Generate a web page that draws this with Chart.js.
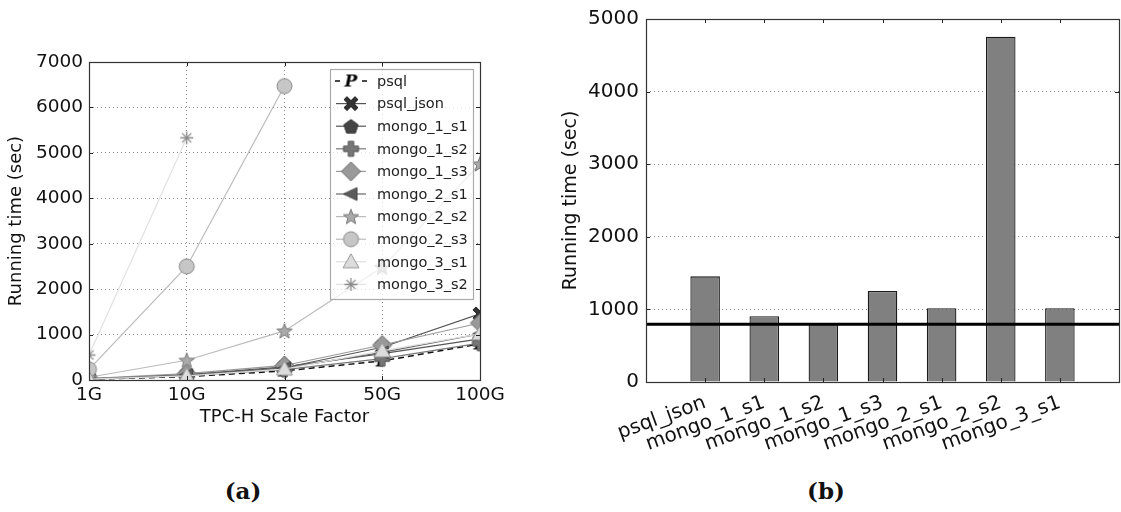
<!DOCTYPE html>
<html><head><meta charset="utf-8">
<script src="https://cdn.jsdelivr.net/npm/chart.js@4"></script>
<style>
html,body{margin:0;padding:0;background:#fff;width:1121px;height:512px;overflow:hidden;}
#ca{position:absolute;left:0;top:0;}
#cb{position:absolute;left:560px;top:0;}
.cap{position:absolute;top:477px;font:bold 23px "DejaVu Serif",serif;color:#111;transform:translateX(-50%);}
</style></head><body>
<canvas id="ca" width="505" height="460"></canvas>
<canvas id="cb" width="561" height="460"></canvas>
<div class="cap" style="left:243px">(a)</div>
<div class="cap" style="left:826px">(b)</div>
<script>
// ---------- data ----------
const scaleFactors = ['1G', '10G', '25G', '50G', '100G'];
const seriesNames = ['psql', 'psql_json', 'mongo_1_s1', 'mongo_1_s2', 'mongo_1_s3', 'mongo_2_s1', 'mongo_2_s2', 'mongo_2_s3', 'mongo_3_s1', 'mongo_3_s2'];
const psql      = [15, 75, 200, 420, 795];
const psqlJson  = [20, 100, 270, 720, 1455];
const mongo1s1  = [25, 120, 290, 580, 905];
const mongo1s2  = [20, 95, 230, 470, 810];
const mongo1s3  = [30, 140, 320, 770, 1255];
const mongo2s1  = [25, 110, 260, 610, 1016];
const mongo2s2  = [60, 434, 1080, 2480, 4755];
const mongo2s3  = [235, 2500, 6470, null, null];
const mongo3s1  = [20, 90, 240, 640, 1016];
const mongo3s2  = [550, 5330, null, null, null];
const leftYTicks = [0, 1000, 2000, 3000, 4000, 5000, 6000, 7000];

const barCategories = ['psql_json', 'mongo_1_s1', 'mongo_1_s2', 'mongo_1_s3', 'mongo_2_s1', 'mongo_2_s2', 'mongo_3_s1'];
const barValues     = [1455, 905, 810, 1255, 1016, 4755, 1016];
const rightYTicks = [0, 1000, 2000, 3000, 4000, 5000];
const psqlBaseline = psql[psql.length - 1];

// ---------- markers ----------
function markerCanvas(kind, size, fill, edge) {
  const S = Math.ceil(size + 4);
  const c = document.createElement('canvas'); c.width = S; c.height = S;
  const g = c.getContext('2d');
  const cx = S / 2, cy = S / 2, r = size / 2;
  g.fillStyle = fill; g.strokeStyle = edge; g.lineWidth = 1;
  const poly = (pts) => { g.beginPath(); pts.forEach((p, i) => i ? g.lineTo(cx + p[0], cy + p[1]) : g.moveTo(cx + p[0], cy + p[1])); g.closePath(); g.fill(); g.stroke(); };
  if (kind === 'P') {
    g.font = 'italic bold ' + size + 'px "DejaVu Serif", serif';
    g.textAlign = 'center'; g.textBaseline = 'middle';
    g.fillText('P', cx, cy + 1);
  } else if (kind === 'X') {
    const w = r * 0.42;
    poly([[-r, -r + w], [-r + w, -r], [0, -w], [r - w, -r], [r, -r + w], [w, 0], [r, r - w], [r - w, r], [0, w], [-r + w, r], [-r, r - w], [-w, 0]]);
  } else if (kind === 'pent') {
    const pts = []; for (let k = 0; k < 5; k++) { const a = -Math.PI / 2 + k * 2 * Math.PI / 5; pts.push([r * Math.cos(a), r * Math.sin(a) + r * 0.1]); } poly(pts);
  } else if (kind === 'plus') {
    const a = r * 0.36; poly([[-a, -r], [a, -r], [a, -a], [r, -a], [r, a], [a, a], [a, r], [-a, r], [-a, a], [-r, a], [-r, -a], [-a, -a]]);
  } else if (kind === 'diamond') {
    poly([[0, -r], [r, 0], [0, r], [-r, 0]]);
  } else if (kind === 'left') {
    poly([[-r, 0], [r * 0.8, -r * 0.85], [r * 0.8, r * 0.85]]);
  } else if (kind === 'star') {
    const pts = []; for (let k = 0; k < 10; k++) { const a = -Math.PI / 2 + k * Math.PI / 5; const rr = k % 2 ? r * 0.42 : r; pts.push([rr * Math.cos(a), rr * Math.sin(a) + r * 0.08]); } poly(pts);
  } else if (kind === 'circle') {
    g.beginPath(); g.arc(cx, cy, r, 0, Math.PI * 2); g.fill(); g.stroke();
  } else if (kind === 'tri') {
    poly([[0, -r], [r, r * 0.75], [-r, r * 0.75]]);
  } else if (kind === 'ast') {
    g.lineWidth = 1.3; g.strokeStyle = fill; g.beginPath();
    for (let k = 0; k < 4; k++) { const a = k * Math.PI / 4; g.moveTo(cx - r * Math.cos(a), cy - r * Math.sin(a)); g.lineTo(cx + r * Math.cos(a), cy + r * Math.sin(a)); }
    g.stroke();
  }
  return c;
}

const styles = [
  { line: '#111', width: 1.5, dash: [6, 4], marker: markerCanvas('P', 17, '#000', '#000') },
  { line: '#555', width: 1.2, dash: [], marker: markerCanvas('X', 14, '#333', '#222') },
  { line: '#555', width: 1.2, dash: [], marker: markerCanvas('pent', 15, '#444', '#333') },
  { line: '#777', width: 1.2, dash: [], marker: markerCanvas('plus', 15, '#777', '#555') },
  { line: '#999', width: 1.2, dash: [], marker: markerCanvas('diamond', 19, '#999', '#666') },
  { line: '#666', width: 1.2, dash: [], marker: markerCanvas('left', 15, '#5c5c5c', '#444') },
  { line: '#bbb', width: 1.2, dash: [], marker: markerCanvas('star', 16, '#aaa', '#777') },
  { line: '#bbb', width: 1.2, dash: [], marker: markerCanvas('circle', 15, '#c6c6c6', '#888') },
  { line: '#ddd', width: 1.2, dash: [], marker: markerCanvas('tri', 16, '#dcdcdc', '#999') },
  { line: '#e2e2e2', width: 1.2, dash: [], marker: markerCanvas('ast', 13, '#8a8a8a', '#8a8a8a') }
];
const seriesData = [psql, psqlJson, mongo1s1, mongo1s2, mongo1s3, mongo2s1, mongo2s2, mongo2s3, mongo3s1, mongo3s2];

const FONT = '"DejaVu Sans", sans-serif';
const plainNum = (v) => String(v);

function innerTicks(chart, xs, ys, len) {
  const ctx = chart.ctx, a = chart.chartArea;
  ctx.save(); ctx.strokeStyle = '#222'; ctx.lineWidth = 1; ctx.beginPath();
  xs.forEach(x => { x = Math.round(x) + 0.5; ctx.moveTo(x, a.bottom); ctx.lineTo(x, a.bottom - len); ctx.moveTo(x, a.top); ctx.lineTo(x, a.top + len); });
  ys.forEach(y => { y = Math.round(y) + 0.5; ctx.moveTo(a.left, y); ctx.lineTo(a.left + len, y); ctx.moveTo(a.right, y); ctx.lineTo(a.right - len, y); });
  ctx.stroke();
  ctx.strokeStyle = '#333'; ctx.lineWidth = 1.2;
  ctx.strokeRect(Math.round(a.left) + 0.5, Math.round(a.top) + 0.5, Math.round(a.right - a.left), Math.round(a.bottom - a.top));
  ctx.restore();
}

// ---------- left chart ----------
const leftPlugin = {
  id: 'leftDecor',
  afterDraw(chart) {
    const xs = scaleFactors.map((_, i) => chart.scales.x.getPixelForTick(i));
    const ys = leftYTicks.map(v => chart.scales.y.getPixelForValue(v));
    innerTicks(chart, xs, ys, 4);
    // legend (semi-opaque like the reference)
    const ctx = chart.ctx, a = chart.chartArea;
    const w = 143, h = 230;
    const lx = a.right - 7 - w, ly = a.top + 7;
    ctx.save();
    ctx.fillStyle = 'rgba(255,255,255,0.75)'; ctx.fillRect(lx, ly, w, h);
    ctx.strokeStyle = '#aaa'; ctx.lineWidth = 1.2; ctx.strokeRect(Math.round(lx) + 0.5, Math.round(ly) + 0.5, w, h);
    ctx.font = '14.5px ' + FONT; ctx.textBaseline = 'middle'; ctx.textAlign = 'left';
    seriesNames.forEach((name, i) => {
      const y = ly + 12 + i * 22.6;
      const st = styles[i];
      ctx.strokeStyle = st.line; ctx.lineWidth = st.width;
      ctx.beginPath();
      if (i === 0) {
        ctx.moveTo(lx + 5, y); ctx.lineTo(lx + 10, y);
        ctx.moveTo(lx + 32, y); ctx.lineTo(lx + 37, y);
      } else {
        ctx.moveTo(lx + 6, y); ctx.lineTo(lx + 36, y);
      }
      ctx.stroke();
      const m = st.marker;
      ctx.drawImage(m, lx + 21 - m.width / 2, y - m.height / 2);
      ctx.fillStyle = '#222';
      ctx.fillText(name, lx + 47, y + 1);
    });
    ctx.restore();
  }
};

new Chart(document.getElementById('ca'), {
  type: 'line',
  data: {
    labels: scaleFactors,
    datasets: seriesNames.map((name, i) => ({
      label: name,
      data: seriesData[i],
      borderColor: styles[i].line,
      borderWidth: styles[i].width,
      borderDash: styles[i].dash,
      pointStyle: styles[i].marker,
      pointRadius: 8,
      backgroundColor: styles[i].line,
      fill: false,
      tension: 0,
      spanGaps: false,
      clip: 0,
      order: seriesNames.length - i
    }))
  },
  options: {
    responsive: false, animation: false,
    layout: { padding: { top: 62, right: 25, left: 0, bottom: 0 } },
    plugins: { legend: { display: false }, tooltip: { enabled: false } },
    scales: {
      x: {
        type: 'category', offset: false,
        grid: { display: true, color: '#888', lineWidth: 1, drawTicks: false },
        border: { display: false, dash: [1, 3] },
        ticks: { font: { family: FONT, size: 18.5 }, color: '#111', padding: 4, maxRotation: 0, autoSkip: false },
        title: { display: true, text: 'TPC-H Scale Factor', font: { family: FONT, size: 18 }, color: '#111', padding: { top: 0, bottom: 32 } },
        afterFit(s) { s.height = 80; s.paddingLeft = 0; s.paddingRight = 0; }
      },
      y: {
        min: 0, max: 7000,
        ticks: { stepSize: 1000, callback: plainNum, font: { family: FONT, size: 18.5 }, color: '#111', padding: 6 },
        grid: { color: '#888', lineWidth: 1, drawTicks: false },
        border: { display: false, dash: [1, 3] },
        title: { display: true, text: 'Running time (sec)', font: { family: FONT, size: 18 }, color: '#111', padding: { top: 6, bottom: 0 } },
        afterFit(s) { s.width = 89; }
      }
    }
  },
  plugins: [leftPlugin]
});

// ---------- right chart ----------
const paddedLabels = [''].concat(barCategories, ['']);
const paddedValues = [null].concat(barValues, [null]);

const rightPlugin = {
  id: 'rightDecor',
  afterDraw(chart) {
    const xs = barCategories.map((_, i) => chart.scales.x.getPixelForTick(i + 1));
    const ys = rightYTicks.map(v => chart.scales.y.getPixelForValue(v));
    innerTicks(chart, xs, ys, 4);
  }
};

new Chart(document.getElementById('cb'), {
  type: 'bar',
  data: {
    labels: paddedLabels,
    datasets: [
      {
        type: 'line', label: 'psql', data: paddedLabels.map(() => psqlBaseline),
        borderColor: '#000', borderWidth: 3, pointRadius: 0, order: 0
      },
      {
        type: 'bar', label: 'time', data: paddedValues,
        backgroundColor: '#808080', borderColor: '#1a1a1a', borderWidth: 1.3,
        barPercentage: 0.5, categoryPercentage: 1.0, order: 1
      }
    ]
  },
  options: {
    responsive: false, animation: false,
    layout: { padding: { top: 13, right: 2, left: 0, bottom: 0 } },
    plugins: { legend: { display: false }, tooltip: { enabled: false } },
    scales: {
      x: {
        type: 'category', offset: false,
        grid: { display: false },
        border: { display: false },
        ticks: { font: { family: FONT, size: 20 }, color: '#111', padding: 1, minRotation: 20, maxRotation: 20, autoSkip: false },
        afterFit(s) { s.height = 78; s.paddingLeft = 0; s.paddingRight = 0; }
      },
      y: {
        min: 0, max: 5000,
        ticks: { stepSize: 1000, callback: plainNum, font: { family: FONT, size: 20 }, color: '#111', padding: 7 },
        grid: { color: '#888', lineWidth: 1, drawTicks: false },
        border: { display: false, dash: [1, 3] },
        title: { display: true, text: 'Running time (sec)', font: { family: FONT, size: 19 }, color: '#111', padding: { top: 0, bottom: 0 } },
        afterFit(s) { s.width = 86; }
      }
    }
  },
  plugins: [rightPlugin]
});
</script>
</body></html>
